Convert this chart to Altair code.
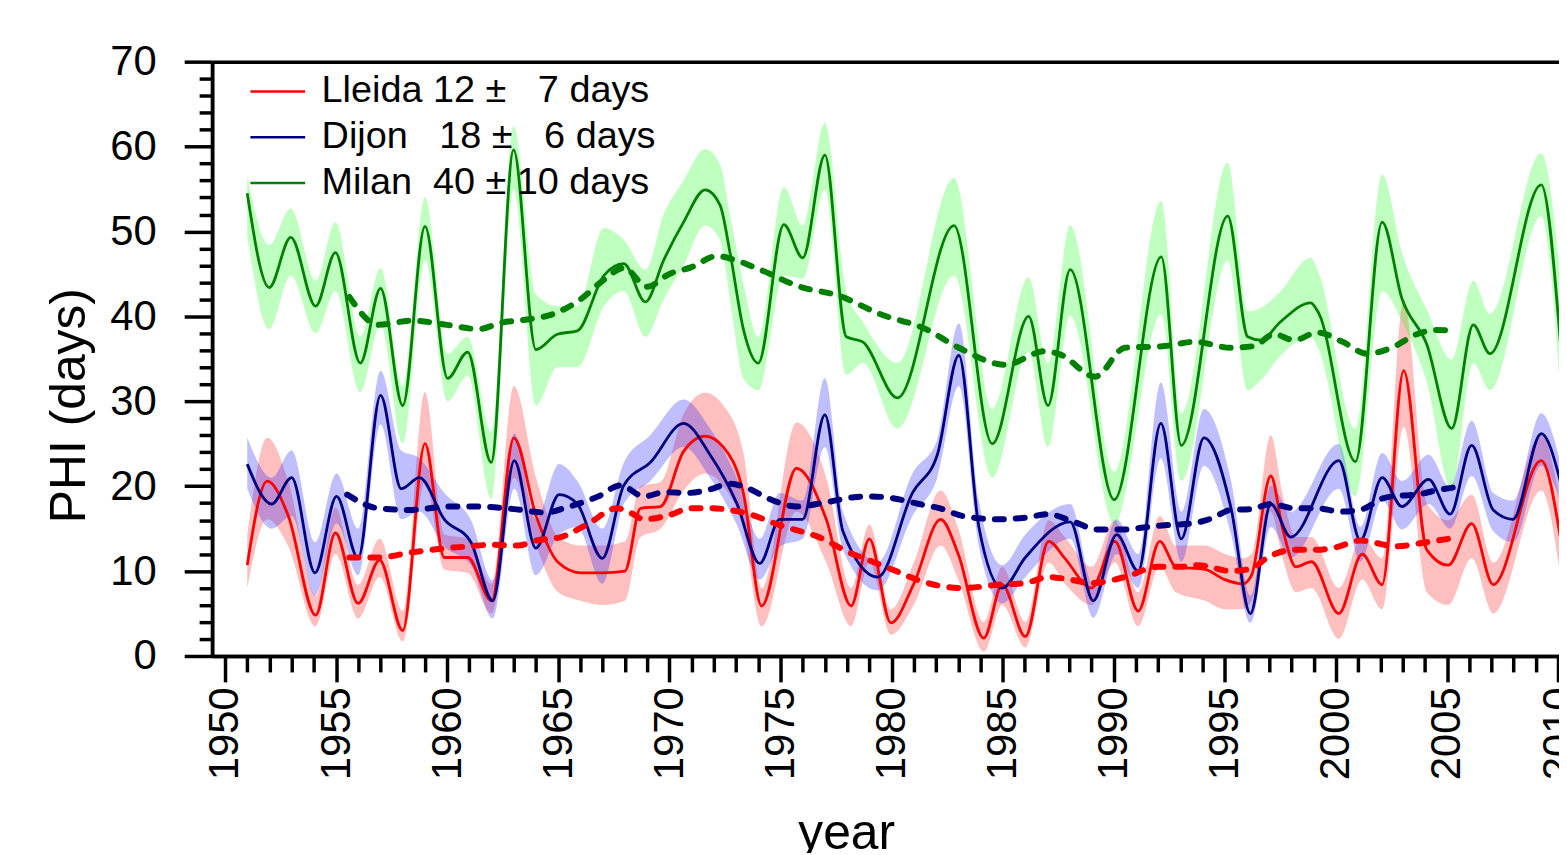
import altair as alt
import pandas as pd

# ---------------- data ----------------
stations = ["Lleida", "Dijon", "Milan"]
station_mean = [12, 18, 40]
station_sd = [7, 6, 10]
legend_labels = ["Lleida 12 ±   7 days", "Dijon   18 ±   6 days", "Milan  40 ± 10 days"]

lleida_year = [1951.0, 1951.9, 1952.85, 1954.08, 1954.97, 1955.99, 1956.96, 1958.0, 1959.0, 1959.87,
               1960.92, 1962.0, 1963.0, 1964.0, 1965.0, 1966.0, 1967.0, 1968.0, 1968.7, 1969.6,
               1970.64, 1971.6, 1972.43, 1973.33, 1974.15, 1975.72, 1977.06, 1978.18, 1979.0, 1979.97,
               1981.0, 1982.21, 1983.0, 1984.15, 1984.98, 1986.02, 1987.07, 1987.8, 1989.0, 1990.05,
               1991.1, 1992.07, 1992.8, 1994.1, 1995.0, 1995.8, 1996.2, 1997.07, 1997.6, 1998.2,
               1998.9, 2000.13, 2001.18, 2002.08, 2003.05, 2004.09, 2005.06, 2006.11, 2007.08, 2009.24,
               2010.1]
lleida_phi = [10.7, 20.6, 16.5, 4.8, 14.5, 6.2, 11.3, 3.0, 25.0, 11.6,
              11.6, 6.5, 25.7, 16.5, 11.0, 9.8, 9.8, 10.0, 17.4, 17.6,
              24.1, 25.9, 24.6, 19.2, 5.9, 22.1, 16.1, 5.9, 13.8, 3.9,
              8.5, 16.1, 12.0, 2.1, 8.4, 2.3, 13.5, 11.5, 8.0, 13.5,
              5.3, 13.5, 10.5, 10.2, 9.0, 8.5, 9.5, 21.2, 15.0, 10.5,
              11.1, 5.0, 12.0, 8.4, 33.6, 12.5, 10.7, 15.6, 8.4, 23.0,
              14.0]
lleida_lo = [8.0, 16.1, 12.9, 3.5, 12.0, 4.4, 9.3, 1.7, 20.6, 10.2,
             9.8, 5.0, 21.0, 13.0, 7.5, 6.5, 6.0, 6.5, 14.0, 15.0,
             19.5, 21.5, 20.0, 15.0, 3.5, 17.0, 11.0, 3.5, 11.0, 2.5,
             6.0, 13.0, 9.0, 0.5, 6.0, 1.0, 11.0, 8.5, 6.0, 11.0,
             3.5, 10.5, 7.5, 6.5, 5.5, 5.5, 6.5, 17.0, 11.5, 7.5,
             8.0, 2.0, 9.0, 5.5, 27.0, 7.5, 6.0, 11.5, 5.0, 19.5,
             9.5]
lleida_hi = [14.3, 25.7, 20.6, 7.1, 17.5, 8.4, 13.8, 5.3, 31.1, 14.3,
             13.8, 8.5, 31.8, 21.0, 14.0, 13.0, 13.0, 13.5, 20.0, 20.5,
             28.5, 31.0, 29.5, 24.0, 8.0, 27.5, 21.0, 8.0, 15.5, 5.5,
             11.0, 19.5, 15.0, 4.0, 10.5, 4.0, 16.0, 14.0, 10.5, 16.0,
             7.5, 16.5, 13.0, 13.0, 12.0, 11.5, 12.0, 26.0, 19.0, 14.0,
             14.0, 8.0, 14.0, 11.5, 42.0, 18.0, 16.0, 19.0, 11.0, 26.0,
             18.0]

dijon_year = [1951.0, 1952.1, 1953.0, 1954.05, 1955.02, 1955.99, 1957.0, 1957.93, 1958.75, 1959.87,
              1961.07, 1962.05, 1963.02, 1963.99, 1965.04, 1965.86, 1966.98, 1967.95, 1969.14, 1970.64,
              1971.83, 1973.03, 1974.07, 1974.97, 1976.0, 1977.0, 1977.81, 1979.38, 1980.94, 1982.06,
              1983.03, 1983.93, 1984.98, 1986.02, 1988.04, 1989.08, 1990.13, 1991.1, 1992.12, 1993.04,
              1994.06, 1995.28, 1996.15, 1997.07, 1997.97, 2000.13, 2001.1, 2002.08, 2002.97, 2004.17,
              2005.14, 2006.11, 2007.08, 2007.97, 2009.24, 2010.1]
dijon_phi = [22.6, 17.9, 21.0, 9.8, 18.8, 11.5, 30.7, 19.7, 21.0, 16.1,
             13.4, 6.5, 23.0, 12.7, 19.0, 17.9, 11.5, 20.1, 22.8, 27.4,
             23.7, 18.0, 10.9, 16.1, 16.1, 28.4, 14.7, 9.3, 19.2, 23.7,
             35.4, 15.2, 8.0, 11.6, 15.8, 6.5, 14.3, 10.0, 27.4, 13.8,
             25.7, 17.4, 5.0, 17.9, 14.0, 23.0, 13.6, 21.0, 17.6, 20.8,
             16.7, 24.8, 17.2, 16.1, 26.2, 20.6]
dijon_lo = [19.7, 15.0, 16.5, 7.1, 15.6, 9.5, 27.3, 16.1, 17.0, 12.9,
            10.7, 4.4, 19.7, 9.5, 14.3, 15.2, 8.5, 17.9, 20.6, 24.6,
            21.0, 15.5, 9.0, 12.9, 13.8, 24.6, 12.5, 7.7, 16.5, 21.0,
            31.8, 12.9, 6.2, 9.3, 13.8, 4.5, 12.0, 8.0, 23.3, 11.1,
            22.4, 14.3, 3.9, 15.2, 11.6, 19.7, 11.1, 18.3, 14.9, 17.9,
            15.0, 21.2, 14.7, 13.4, 22.4, 18.3]
dijon_hi = [25.7, 21.0, 24.2, 13.4, 21.5, 15.0, 33.6, 24.2, 23.3, 19.2,
            16.0, 8.9, 26.2, 16.1, 22.6, 20.6, 15.0, 22.8, 26.0, 30.2,
            26.8, 21.0, 13.8, 19.2, 18.3, 32.7, 17.0, 11.1, 21.5, 25.5,
            39.2, 18.3, 10.7, 14.3, 17.9, 8.5, 16.1, 12.0, 32.2, 17.0,
            29.1, 20.6, 7.1, 20.1, 17.0, 25.0, 15.2, 23.9, 20.6, 23.7,
            19.9, 27.7, 19.2, 18.3, 28.6, 22.8]

milan_year = [1951.0, 1951.99, 1952.96, 1954.08, 1954.97, 1956.09, 1957.0, 1958.0, 1959.0, 1960.02,
              1960.92, 1961.98, 1962.99, 1963.99, 1964.96, 1965.86, 1967.05, 1967.95, 1968.92, 1969.74,
              1970.64, 1971.61, 1972.28, 1972.73, 1973.33, 1974.0, 1975.15, 1976.0, 1977.0, 1977.96,
              1978.7, 1980.27, 1982.81, 1984.53, 1986.17, 1987.04, 1988.04, 1990.02, 1992.14, 1993.04,
              1995.13, 1996.03, 1996.62, 1997.52, 1998.86, 1999.24, 2000.88, 2002.08, 2002.97, 2004.09,
              2005.21, 2006.18, 2006.93, 2009.24, 2010.1]
milan_phi = [54.5, 43.4, 49.3, 41.2, 47.5, 34.5, 43.3, 29.5, 50.6, 32.7,
             35.8, 22.8, 59.6, 36.1, 37.9, 38.3, 44.8, 46.2, 41.7, 46.6,
             51.1, 54.9, 53.1, 47.5, 38.5, 34.5, 50.8, 46.9, 59.0, 37.6,
             37.0, 30.4, 50.7, 25.0, 40.0, 29.5, 45.5, 18.4, 47.0, 24.8,
             51.8, 37.6, 37.2, 39.4, 41.6, 40.3, 22.9, 51.1, 42.1, 36.7,
             26.8, 39.0, 35.6, 55.5, 37.0]
milan_lo = [49.5, 38.5, 44.8, 38.0, 43.0, 31.1, 39.0, 25.0, 46.6, 30.0,
            33.0, 18.5, 55.0, 29.5, 34.0, 34.0, 41.2, 43.0, 37.6, 42.0,
            46.0, 50.7, 49.0, 42.0, 32.7, 31.3, 44.8, 44.4, 54.9, 33.1,
            34.5, 26.8, 44.8, 21.0, 35.8, 24.6, 40.1, 15.6, 40.3, 20.6,
            46.6, 31.3, 32.5, 35.4, 37.6, 36.0, 18.8, 43.0, 39.4, 32.2,
            19.7, 34.5, 31.3, 51.8, 31.0]
milan_hi = [56.5, 48.4, 52.7, 44.2, 51.1, 37.6, 45.7, 31.8, 54.0, 35.6,
            37.6, 26.4, 62.4, 42.6, 41.2, 41.2, 50.4, 49.0, 45.5, 52.0,
            56.0, 59.7, 57.9, 52.0, 43.9, 37.6, 55.2, 50.7, 62.8, 43.0,
            39.4, 34.5, 56.3, 29.1, 44.6, 34.5, 50.7, 21.7, 53.6, 28.6,
            58.1, 40.6, 41.0, 43.0, 46.9, 45.0, 26.8, 56.7, 47.5, 40.8,
            34.9, 44.2, 40.3, 59.2, 45.0]

# running means (dashed)
lleida_ma_year = [1955.6, 1956.88, 1958.4, 1959.6, 1960.92, 1962.0, 1963.17, 1964.0, 1965.11, 1966.3,
                  1967.65, 1968.3, 1968.85, 1970.0, 1970.94, 1971.8, 1972.73, 1973.48, 1974.97, 1976.91,
                  1978.0, 1979.15, 1980.2, 1981.24, 1983.18, 1984.83, 1986.02, 1987.07, 1988.0, 1989.01,
                  1990.5, 1991.99, 1993.0, 1993.79, 1995.28, 1996.2, 1996.92, 1998.12, 1999.16, 2000.0,
                  2001.1, 2002.0, 2002.6, 2004.09, 2005.51]
lleida_ma = [11.6, 11.6, 12.2, 12.6, 12.9, 13.1, 13.0, 13.6, 14.0, 15.5,
             17.4, 16.8, 16.1, 16.6, 17.4, 17.4, 17.2, 16.8, 15.4, 13.8,
             12.3, 11.1, 10.0, 8.9, 8.0, 8.4, 8.6, 9.3, 9.0, 8.6,
             9.3, 10.5, 10.5, 10.7, 10.0, 10.3, 11.6, 12.5, 12.5, 12.8,
             13.6, 13.2, 12.9, 13.4, 14.0]

dijon_ma_year = [1955.5, 1956.9, 1958.4, 1960.0, 1961.4, 1963.0, 1964.4, 1965.5, 1966.8, 1967.8,
                 1968.85, 1969.8, 1970.8, 1971.8, 1972.73, 1973.48, 1974.5, 1975.72, 1977.06, 1978.3,
                 1979.0, 1980.0, 1981.24, 1982.3, 1983.18, 1984.83, 1986.02, 1987.07, 1988.0, 1989.31,
                 1990.5, 1991.5, 1992.29, 1993.49, 1994.4, 1995.28, 1996.2, 1997.07, 1998.12, 1999.16,
                 2000.2, 2001.2, 2002.15, 2003.0, 2003.64, 2004.5, 2005.44]
dijon_ma = [19.0, 17.4, 17.2, 17.6, 17.6, 17.3, 16.9, 17.6, 18.8, 20.1,
            18.8, 19.3, 19.2, 19.6, 20.3, 19.8, 18.5, 17.6, 18.1, 18.7,
            18.8, 18.6, 17.9, 17.3, 16.5, 16.1, 16.3, 16.7, 16.0, 14.9,
            14.9, 15.2, 15.4, 15.6, 16.2, 17.2, 17.3, 17.9, 17.4, 17.4,
            17.0, 17.3, 18.6, 18.9, 19.0, 19.5, 19.9]

milan_ma_year = [1955.6, 1956.9, 1958.4, 1960.0, 1961.4, 1962.5, 1963.5, 1964.8, 1966.0, 1967.0,
                 1967.95, 1969.0, 1970.0, 1971.0, 1972.13, 1973.0, 1974.0, 1975.87, 1977.66, 1979.45,
                 1981.54, 1983.03, 1985.13, 1986.9, 1987.6, 1989.16, 1990.5, 1992.29, 1993.64, 1995.28,
                 1996.3, 1997.22, 1998.12, 1999.16, 2000.3, 2001.4, 2002.5, 2003.64, 2004.5, 2005.4]
milan_ma = [42.3, 39.0, 39.5, 39.0, 38.5, 39.3, 39.6, 40.3, 42.0, 44.2,
            45.7, 43.5, 45.0, 45.8, 47.1, 46.6, 45.6, 43.5, 42.4, 40.3,
            38.5, 36.3, 34.3, 35.9, 35.5, 32.9, 36.3, 36.5, 37.0, 36.3,
            36.5, 37.9, 37.2, 38.1, 37.0, 35.6, 36.3, 37.9, 38.4, 38.3]

# ---------------- tables ----------------
series = {
    "Lleida": (lleida_year, lleida_phi, lleida_lo, lleida_hi, lleida_ma_year, lleida_ma),
    "Dijon": (dijon_year, dijon_phi, dijon_lo, dijon_hi, dijon_ma_year, dijon_ma),
    "Milan": (milan_year, milan_phi, milan_lo, milan_hi, milan_ma_year, milan_ma),
}
nbsp_labels = [s.replace(" ", "\u00a0") for s in legend_labels]
label_of = dict(zip(stations, nbsp_labels))

rows, ma_rows = [], []
for st in stations:
    yr, phi, lo, hi, mayr, ma = series[st]
    for a, b, c, d in zip(yr, phi, lo, hi):
        rows.append({"station": st, "label": label_of[st], "year": a, "phi": b, "lo": c, "hi": d})
    for a, b in zip(mayr, ma):
        ma_rows.append({"station": st, "year": a, "ma": b})
df = pd.DataFrame(rows)
ma_df = pd.DataFrame(ma_rows)

FONT = "Liberation Sans"
X0, X1 = 1949.418, 2010.04
xs = alt.Scale(domain=[X0, X1], nice=False, zero=False)
ys = alt.Scale(domain=[0, 70], nice=False, zero=False)

major_x = list(range(1950, 2011, 5))
minor_x = [v for v in range(1950, 2011) if v % 5]
major_y = list(range(0, 71, 10))
minor_y = [v for v in range(0, 71, 2) if v % 10]

common_axis = dict(grid=False, domainColor="black", tickColor="black", labelColor="black",
                   domainWidth=3.5, tickWidth=3.5, labelFont=FONT, titleFont=FONT,
                   titleColor="black", labelFlush=False, labelOverlap=False)

ax_x_major = alt.Axis(orient="bottom", values=major_x, tickSize=26, labelAngle=270,
                      labelFontSize=42, labelPadding=5, format="d", title="year",
                      titleFontSize=50, titleFontWeight="normal", titleX=637, titleY=193,
                      titleAlign="center", titleBaseline="alphabetic", **common_axis)
ax_y_major = alt.Axis(orient="left", values=major_y, tickSize=28, labelFontSize=42,
                      labelPadding=28, title="PHI (days)", titleFontSize=50,
                      titleFontWeight="normal", titleAngle=270, titleX=-143, titleY=345,
                      titleAlign="center", titleBaseline="middle", **common_axis)
ax_x_minor = alt.Axis(orient="bottom", values=minor_x, tickSize=16, labels=False, title=None,
                      **common_axis)
ax_y_minor = alt.Axis(orient="left", values=minor_y, tickSize=13, labels=False, title=None,
                      **common_axis)
ax_x_top = alt.Axis(orient="top", ticks=False, labels=False, title=None, **common_axis)

band_colors = ["#FF0000", "#0000FF", "#00FF00"]
line_colors = ["#FF0000", "#000080", "#008000"]

bands = alt.Chart(df).mark_area(interpolate="monotone", opacity=0.25, clip=True).encode(
    x=alt.X("year:Q", scale=xs, axis=ax_x_major),
    y=alt.Y("lo:Q", scale=ys, axis=ax_y_major),
    y2="hi:Q",
    color=alt.Color("station:N", scale=alt.Scale(domain=stations, range=band_colors), legend=None),
)

lines = alt.Chart(df).mark_line(interpolate="monotone", clip=True).encode(
    x=alt.X("year:Q", scale=xs, axis=ax_x_minor),
    y=alt.Y("phi:Q", scale=ys, axis=ax_y_minor),
    color=alt.Color("label:N", scale=alt.Scale(domain=nbsp_labels, range=line_colors),
                    legend=alt.Legend(orient="none", legendX=37, legendY=7, title=None,
                                      symbolType="stroke", symbolSize=3025, symbolStrokeWidth=2.5,
                                      labelFont=FONT, labelFontSize=38, labelColor="black",
                                      labelOffset=15, labelLimit=0, clipHeight=46,
                                      rowPadding=0, padding=0)),
    strokeWidth=alt.StrokeWidth("station:N", scale=alt.Scale(domain=stations, range=[2.8, 2.8, 1.8]),
                                legend=None),
)

means = alt.Chart(ma_df).mark_line(interpolate="monotone", strokeWidth=6, strokeDash=[9, 12],
                                   strokeCap="round", clip=True).encode(
    x=alt.X("year:Q", scale=xs, axis=ax_x_top),
    y=alt.Y("ma:Q", scale=ys, axis=None),
    color=alt.Color("station:N", scale=alt.Scale(domain=stations, range=line_colors), legend=None),
)

chart = alt.layer(bands, lines, means).resolve_scale(
    color="independent", strokeWidth="independent"
).resolve_axis(
    x="independent", y="independent"
).properties(
    width=1353, height=597,
    autosize=alt.AutoSizeParams(type="none"),
    padding={"left": 205, "top": 52, "right": 0, "bottom": 196},
).configure_view(stroke=None)

chart.save("out.html", embed_options={"renderer": "svg", "actions": False})
